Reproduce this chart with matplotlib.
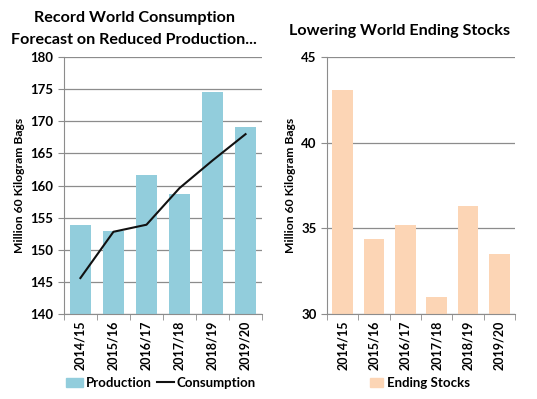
import matplotlib
matplotlib.use("Agg")
import matplotlib.pyplot as plt
from matplotlib.patches import Patch
from matplotlib.lines import Line2D

plt.rcParams['font.family'] = ['Lato', 'DejaVu Sans']
plt.rcParams['font.weight'] = 'bold'

years = ["2014/15", "2015/16", "2016/17", "2017/18", "2018/19", "2019/20"]
production = [153.8, 152.9, 161.7, 158.7, 174.5, 169.1]
consumption = [145.6, 152.8, 153.9, 159.6, 163.9, 168.0]
ending_stocks = [43.1, 34.4, 35.2, 31.0, 36.3, 33.5]

blue = "#92CDDC"
peach = "#FCD5B5"
grid_c = "#8c8c8c"

W, H = 537, 399
fig = plt.figure(figsize=(5.37, 3.99), dpi=100)
ax1 = fig.add_axes([0.119, 0.213, 0.369, 0.644])
ax2 = fig.add_axes([0.609, 0.213, 0.350, 0.644])

x = list(range(len(years)))

def style(ax, ylim, step):
    ax.set_ylim(*ylim)
    ax.set_xlim(-0.5, len(years) - 0.5)
    ax.set_yticks(list(range(ylim[0], ylim[1] + 1, step)))
    ax.yaxis.grid(True, color=grid_c, linewidth=0.9)
    ax.set_axisbelow(True)
    for s in ["top", "right"]:
        ax.spines[s].set_visible(False)
    ax.spines["left"].set_color(grid_c)
    ax.spines["bottom"].set_color(grid_c)
    ax.set_xticks(x)
    ax.set_xticklabels(years, rotation=90, fontsize=9, fontweight='bold')
    ax.tick_params(axis='x', length=0, pad=5)
    ax.set_xticks([i - 0.5 for i in range(len(years) + 1)], minor=True)
    ax.tick_params(axis='x', which='minor', length=4, color=grid_c)
    ax.tick_params(axis='y', length=4, color=grid_c, labelsize=9.5)
    for lab in ax.get_yticklabels():
        lab.set_fontweight('bold')
    ax.set_ylabel("Million 60 Kilogram Bags", fontsize=8.7, fontweight='bold')

ax1.bar(x, production, width=0.66, color=blue)
ax1.plot(x, consumption, color="#111111", linewidth=1.5)
style(ax1, (140, 180), 5)
fig.text(134 / W, 1 - 18 / H, "Record World Consumption", ha='center', va='center',
         fontsize=11.6, fontweight='bold')
fig.text(134 / W, 1 - 40 / H, "Forecast on Reduced Production...", ha='center', va='center',
         fontsize=11.6, fontweight='bold')
fig.legend(handles=[Patch(color=blue, label="Production"),
                    Line2D([0], [0], color="#111111", lw=1.5, label="Consumption")],
           loc="center", bbox_to_anchor=(161 / W, 1 - 383 / H), ncol=2, frameon=False,
           handlelength=1.3, handletextpad=0.2, columnspacing=0.4,
           prop={'weight': 'bold', 'size': 9.5})

ax2.bar(x, ending_stocks, width=0.66, color=peach)
style(ax2, (30, 45), 5)
fig.text(400 / W, 1 - 31 / H, "Lowering World Ending Stocks", ha='center', va='center',
         fontsize=11.6, fontweight='bold')
fig.legend(handles=[Patch(color=peach, label="Ending Stocks")],
           loc="center", bbox_to_anchor=(420 / W, 1 - 383 / H), ncol=1, frameon=False,
           handlelength=1.0, handletextpad=0.3, prop={'weight': 'bold', 'size': 9.5})

fig.savefig("out.png", dpi=100)
